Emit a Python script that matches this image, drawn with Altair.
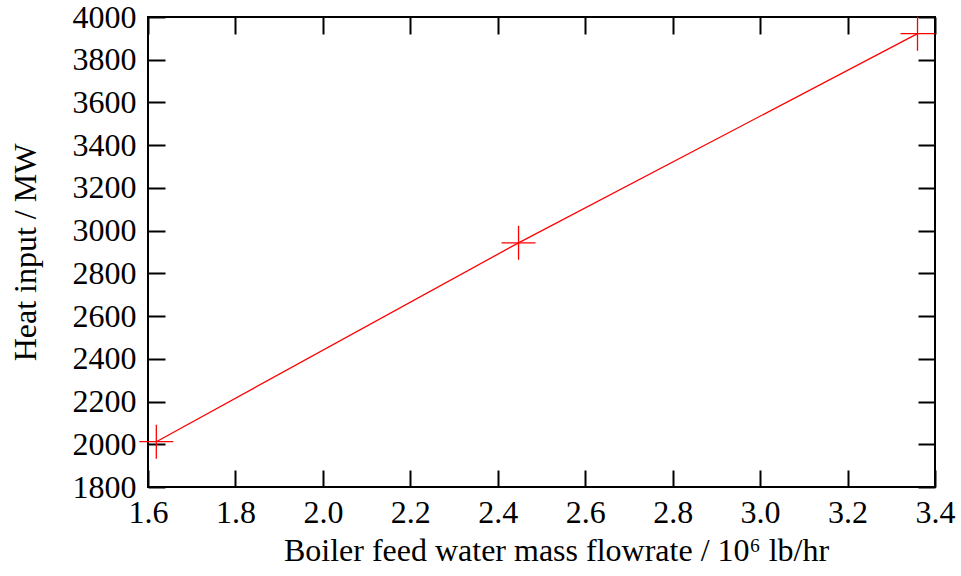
import altair as alt
import pandas as pd

flow = [1.619, 2.4475, 3.36]
heat = [2012, 2943, 3922]
x_ticks = [1.6, 1.8, 2.0, 2.2, 2.4, 2.6, 2.8, 3.0, 3.2, 3.4]
y_ticks = [1800, 2000, 2200, 2400, 2600, 2800, 3000, 3200, 3400, 3600, 3800, 4000]

df = pd.DataFrame({"flow": flow, "heat": heat})

FONT = "Liberation Serif"
FS = 32
TICK = 17

xscale = alt.Scale(domain=[1.6, 3.4], nice=False, zero=False)
yscale = alt.Scale(domain=[1800, 4000], nice=False, zero=False)

xaxis = alt.Axis(values=x_ticks, format=".1f", orient="bottom", offset=-TICK, tickSize=TICK,
                 tickWidth=2, tickColor="black", domain=False, grid=False, labelPadding=10,
                 labelFont=FONT, labelFontSize=FS, labelColor="black",
                 title="Boiler feed water mass flowrate / 10\u2076 lb/hr",
                 titleFont=FONT, titleFontSize=FS, titleFontWeight="normal", titleColor="black",
                 titlePadding=7, titleX=408, labelFlush=False)
yaxis = alt.Axis(values=y_ticks, format="d", orient="left", offset=-TICK, tickSize=TICK,
                 tickWidth=2, tickColor="black", domain=False, grid=False, labelPadding=12,
                 labelFont=FONT, labelFontSize=FS, labelColor="black",
                 title="Heat input / MW", titleFont=FONT, titleFontSize=FS,
                 titleFontWeight="normal", titleColor="black", titlePadding=30, labelFlush=False)

line = alt.Chart(df).mark_line(color="red", strokeWidth=1.3).encode(
    x=alt.X("flow:Q", scale=xscale, axis=xaxis),
    y=alt.Y("heat:Q", scale=yscale, axis=yaxis),
)

pts = alt.Chart(df).mark_point(shape="M-1,0H1M0,-1V1", size=1156, color="red",
                               strokeWidth=1.3, filled=False, opacity=1).encode(
    x=alt.X("flow:Q", scale=xscale, axis=alt.Axis(orient="top", offset=-TICK, tickSize=TICK,
            tickWidth=2, tickColor="black", values=x_ticks, labels=False, domain=False,
            grid=False, title=None)),
    y=alt.Y("heat:Q", scale=yscale, axis=alt.Axis(orient="right", offset=-TICK, tickSize=TICK,
            tickWidth=2, tickColor="black", values=y_ticks, labels=False, domain=False,
            grid=False, title=None)),
)

chart = alt.layer(line, pts).resolve_axis(x="independent", y="independent").properties(
    width=787, height=470,
    autosize=alt.AutoSizeParams(type="none"),
    padding={"left": 148, "top": 17, "right": 26, "bottom": 89},
    background="white",
).configure_view(stroke="black", strokeWidth=2)

chart.save("out.html", embed_options={"renderer": "svg", "actions": False})
